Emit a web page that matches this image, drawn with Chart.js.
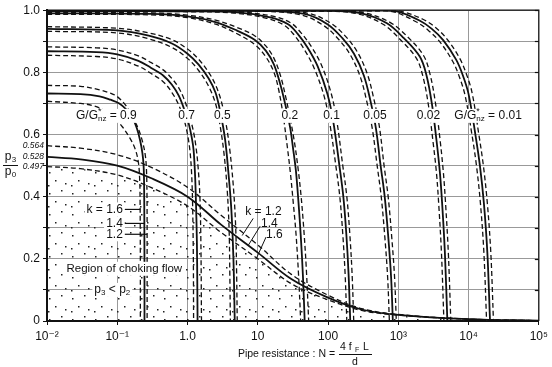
<!DOCTYPE html>
<html>
<head>
<meta charset="utf-8">
<script src="https://cdn.jsdelivr.net/npm/chart.js@4"></script>
<style>
  html, body { margin: 0; padding: 0; background: #fff; }
  #root { width: 552px; height: 367px; position: relative; }
</style>
</head>
<body>
<div id="root"><canvas id="myChart"></canvas></div>
<script>
// axis ticks
const xTicks = [0.01, 0.1, 1, 10, 100, 1000, 10000, 100000]
const xTickLabels = ['10\u207B\u00B2', '10\u207B\u00B9', '1.0', '10', '100', '10\u00B3', '10\u2074', '10\u2075']
const criticalRatios = [0.564, 0.528, 0.497]

// choking boundary, [N, p3/p0]
const chokeK12 = [[0.01,0.564],[0.03,0.556],[0.1,0.535],[0.3,0.495],[1,0.43],[3,0.34],[10,0.245],[30,0.15],[100,0.083],[300,0.04],[1000,0.021],[10000,0.006],[100000,0.001]]
const chokeK14 = [[0.01,0.528],[0.03,0.52],[0.1,0.5],[0.3,0.46],[1,0.4],[3,0.31],[10,0.22],[30,0.135],[100,0.075],[300,0.037],[1000,0.02],[10000,0.006],[100000,0.001]]
const chokeK16 = [[0.01,0.497],[0.03,0.49],[0.1,0.47],[0.3,0.43],[1,0.37],[3,0.285],[10,0.2],[30,0.12],[100,0.068],[300,0.034],[1000,0.019],[10000,0.006],[100000,0.001]]

// G/G*nz = 0.9
const g09k12 = [[0.01,0.758],[0.03,0.755],[0.056,0.744],[0.08,0.733],[0.1,0.722],[0.133,0.693],[0.165,0.655],[0.2,0.618],[0.23,0.575],[0.25,0.535],[0.26,0.49],[0.265,0.4],[0.266,0.2],[0.266,0]]
const g09k14 = [[0.01,0.732],[0.03,0.73],[0.056,0.723],[0.08,0.712],[0.107,0.7],[0.135,0.68],[0.163,0.655],[0.19,0.62],[0.212,0.58],[0.228,0.54],[0.237,0.5],[0.241,0.44],[0.243,0.3],[0.244,0.15],[0.244,0]]
const g09k16 = [[0.01,0.707],[0.03,0.7],[0.045,0.693],[0.062,0.68],[0.09,0.655],[0.118,0.625],[0.15,0.59],[0.18,0.553],[0.2,0.51],[0.208,0.46],[0.211,0.4],[0.213,0.2],[0.213,0]]
// 0.7
const g07k12 = [[0.01,0.882],[0.05,0.879],[0.1,0.872],[0.2,0.853],[0.3,0.832],[0.45,0.808],[0.6,0.78],[0.75,0.75],[0.9,0.712],[1.05,0.665],[1.2,0.615],[1.32,0.56],[1.42,0.49],[1.5,0.4],[1.55,0.25],[1.58,0]]
const g07k14 = [[0.01,0.868],[0.05,0.865],[0.1,0.858],[0.2,0.837],[0.3,0.815],[0.45,0.79],[0.6,0.76],[0.75,0.725],[0.9,0.68],[1.04,0.635],[1.15,0.59],[1.22,0.55],[1.28,0.47],[1.32,0.38],[1.36,0.25],[1.38,0.1],[1.39,0]]
const g07k16 = [[0.01,0.855],[0.05,0.851],[0.1,0.843],[0.2,0.82],[0.3,0.797],[0.45,0.77],[0.6,0.735],[0.75,0.695],[0.9,0.645],[1.0,0.6],[1.08,0.55],[1.14,0.48],[1.18,0.38],[1.21,0.2],[1.22,0]]
// 0.5
const g05k12 = [[0.01,0.947],[0.1,0.942],[0.28,0.927],[0.6,0.905],[1.0,0.875],[1.44,0.842],[2.0,0.8],[2.5,0.76],[3.0,0.71],[3.5,0.64],[4.0,0.55],[4.5,0.43],[4.85,0.3],[5.0,0.15],[5.1,0]]
const g05k14 = [[0.01,0.94],[0.1,0.935],[0.28,0.918],[0.6,0.893],[1.0,0.86],[1.44,0.825],[2.0,0.78],[2.5,0.735],[2.94,0.67],[3.42,0.585],[3.81,0.48],[4.2,0.36],[4.5,0.2],[4.7,0]]
const g05k16 = [[0.01,0.932],[0.1,0.927],[0.28,0.908],[0.6,0.88],[1.0,0.845],[1.44,0.806],[2.0,0.755],[2.5,0.7],[2.9,0.63],[3.3,0.54],[3.65,0.43],[3.9,0.3],[4.0,0.15],[4.07,0]]
// 0.2
const g02k12 = [[0.01,0.993],[0.3,0.991],[1,0.984],[2.5,0.968],[5,0.945],[9,0.918],[13,0.885],[17,0.845],[21,0.79],[25,0.72],[29,0.65],[33,0.58],[37,0.5],[41,0.41],[45,0.3],[49,0.17],[53,0]]
const g02k14 = [[0.01,0.99],[0.3,0.988],[1,0.98],[2.5,0.962],[5,0.935],[9,0.905],[13,0.87],[17,0.825],[21,0.76],[25,0.69],[29,0.62],[32,0.55],[35,0.48],[38,0.38],[41,0.27],[44,0.14],[46.5,0]]
const g02k16 = [[0.01,0.987],[0.3,0.985],[1,0.976],[2.5,0.955],[5,0.925],[9,0.89],[13,0.85],[17,0.8],[20,0.74],[23,0.66],[26,0.57],[29,0.48],[32,0.38],[35,0.28],[38,0.15],[40.8,0]]
// 0.1
const g01k12 = [[0.01,0.998],[1,0.997],[5,0.995],[17,0.98],[30,0.958],[41,0.928],[57,0.885],[80,0.825],[110,0.735],[133,0.645],[162,0.5],[185,0.4],[204,0.28],[220,0.15],[232,0]]
const g01k14 = [[0.01,0.997],[1,0.996],[5,0.993],[15,0.977],[27,0.955],[37,0.924],[51,0.88],[71,0.82],[98,0.73],[119,0.64],[145,0.5],[165,0.4],[182,0.28],[196,0.15],[207,0]]
const g01k16 = [[0.01,0.996],[1,0.995],[4.5,0.991],[13.4,0.974],[24,0.951],[33,0.92],[45.5,0.875],[63,0.815],[87.5,0.725],[106,0.635],[129,0.5],[147,0.4],[162,0.28],[175,0.15],[185,0]]
// 0.05
const g005k12 = [[0.01,0.999],[11,0.998],[52,0.99],[110,0.958],[179,0.915],[262,0.865],[362,0.795],[448,0.715],[538,0.625],[627,0.5],[717,0.4],[806,0.27],[885,0.14],[936,0]]
const g005k14 = [[0.01,0.999],[10,0.998],[46,0.988],[98,0.955],[160,0.91],[234,0.86],[323,0.79],[400,0.71],[480,0.62],[560,0.5],[640,0.4],[720,0.27],[790,0.14],[836,0]]
const g005k16 = [[0.01,0.998],[9,0.997],[41,0.985],[87.5,0.95],[143,0.905],[209,0.855],[288,0.785],[357,0.705],[429,0.615],[500,0.5],[571,0.4],[643,0.27],[705,0.14],[746,0]]
// 0.02
const g002k12 = [[0.01,1.0],[112,0.998],[336,0.991],[772,0.96],[1344,0.915],[2274,0.855],[2822,0.795],[3360,0.705],[3920,0.585],[4370,0.48],[4700,0.38],[5150,0.22],[5590,0]]
const g002k14 = [[0.01,1.0],[100,0.998],[300,0.99],[689,0.958],[1200,0.91],[2030,0.85],[2520,0.79],[3000,0.7],[3500,0.58],[3900,0.48],[4200,0.38],[4600,0.22],[4990,0]]
const g002k16 = [[0.01,0.999],[89,0.997],[268,0.988],[615,0.954],[1071,0.905],[1813,0.845],[2250,0.785],[2680,0.695],[3125,0.575],[3480,0.48],[3750,0.38],[4110,0.22],[4455,0]]
// 0.01
const g001k12 = [[0.01,1.0],[560,0.999],[1066,0.997],[2274,0.97],[3360,0.945],[4900,0.908],[7480,0.845],[9300,0.795],[11200,0.735],[14000,0.6],[16240,0.5],[18480,0.38],[20720,0.22],[22600,0]]
const g001k14 = [[0.01,1.0],[500,0.999],[952,0.996],[2030,0.966],[3000,0.94],[4380,0.903],[6680,0.84],[8300,0.79],[10000,0.73],[12500,0.6],[14500,0.5],[16500,0.38],[18500,0.22],[20200,0]]
const g001k16 = [[0.01,0.999],[446,0.998],[850,0.995],[1813,0.962],[2680,0.935],[3910,0.898],[5960,0.835],[7410,0.785],[8930,0.725],[11160,0.6],[12950,0.5],[14730,0.38],[16520,0.22],[18040,0]]

const families = [
  [g09k12, g09k14, g09k16], [g07k12, g07k14, g07k16], [g05k12, g05k14, g05k16],
  [g02k12, g02k14, g02k16], [g01k12, g01k14, g01k16], [g005k12, g005k14, g005k16],
  [g002k12, g002k14, g002k16], [g001k12, g001k14, g001k16]
]

// label anchors [text, N, p3/p0]
const familyLabels = [['0.7', 0.97, 0.66], ['0.5', 3.14, 0.66], ['0.2', 28.6, 0.66], ['0.1', 112, 0.66], ['0.05', 466, 0.66], ['0.02', 2690, 0.66]]

const FONT = '"Liberation Sans", "DejaVu Sans", sans-serif'

var toPoints = arr => arr.map(([x, y]) => ({ x, y }))

var makeStipple = ctx => {
  const c = document.createElement('canvas')
  c.width = 23; c.height = 21
  const g = c.getContext('2d')
  g.fillStyle = '#222'
  ;[[3, 4], [15, 1], [9, 12], [19, 15], [2, 17]].forEach(([x, y]) => g.fillRect(x, y, 1.5, 1.5))
  return ctx.createPattern(c, 'repeat')
}

var lineSet = (data, dashed, extra) => Object.assign({
  data: toPoints(data),
  borderColor: '#111',
  borderWidth: dashed ? 1.3 : 1.8,
  borderDash: dashed ? [5, 3] : [],
  pointRadius: 0,
  tension: 0.35,
  fill: false
}, extra || {})

const canvas = document.getElementById('myChart')
const ctx = canvas.getContext('2d')

const datasets = []
datasets.push(lineSet(chokeK16, true, { fill: 'origin', backgroundColor: makeStipple(ctx) }))
datasets.push(lineSet(chokeK14, false))
datasets.push(lineSet(chokeK12, true))
families.forEach(([a, b, c]) => {
  datasets.push(lineSet(a, true))
  datasets.push(lineSet(b, false))
  datasets.push(lineSet(c, true))
})

// parts: [text, size, dy, keepX]
var boxText = (ctx, parts, px, py, align) => {
  let w = 0
  parts.forEach(p => { ctx.font = p[1] + 'px ' + FONT; if (!p[3]) w += ctx.measureText(p[0]).width })
  let x0 = align === 'left' ? px : align === 'right' ? px - w : px - w / 2
  ctx.fillStyle = '#fff'
  ctx.fillRect(x0 - 2, py - 7, w + 4, 14)
  ctx.fillStyle = '#111'
  ctx.textBaseline = 'middle'
  ctx.textAlign = 'left'
  parts.forEach(p => {
    ctx.font = p[1] + 'px ' + FONT
    ctx.fillText(p[0], x0, py + p[2])
    if (!p[3]) x0 += ctx.measureText(p[0]).width
  })
}

var ggParts = val => [['G/G', 12, 0], ['*', 9, -4, true], ['nz', 8, 3], [' = ' + val, 12, 0]]

const labelsPlugin = {
  id: 'labels',
  afterDatasetsDraw (chart) {
    const { ctx, scales: { x, y } } = chart
    ctx.save()
    boxText(ctx, ggParts('0.9'), x.getPixelForValue(0.07), y.getPixelForValue(0.66), 'center')
    familyLabels.forEach(([t, n, p]) => boxText(ctx, [[t, 12, 0]], x.getPixelForValue(n), y.getPixelForValue(p), 'center'))
    boxText(ctx, ggParts('0.01'), x.getPixelForValue(6270), y.getPixelForValue(0.66), 'left')

    boxText(ctx, [['Region of choking flow', 11.5, 0]], x.getPixelForValue(0.126), y.getPixelForValue(0.168), 'center')
    boxText(ctx, [['p', 12, 0], ['3', 8, 3], [' < p', 12, 0], ['2', 8, 3]], x.getPixelForValue(0.085), y.getPixelForValue(0.1), 'center')

    // k labels, left group
    const kLeft = [['k = 1.6', 0.359, 0.213], ['1.4', 0.314, 0.244], ['1.2', 0.279, 0.266]]
    kLeft.forEach(([t, p, nEnd]) => {
      const tx = x.getPixelForValue(0.12)
      const ty = y.getPixelForValue(p)
      boxText(ctx, [[t, 12, 0]], tx, ty, 'right')
      ctx.beginPath()
      ctx.strokeStyle = '#111'; ctx.lineWidth = 1.2; ctx.setLineDash([])
      ctx.moveTo(tx + 2, ty); ctx.lineTo(x.getPixelForValue(nEnd), ty)
      ctx.stroke()
    })
    // k labels, right group
    const kRight = [['k = 1.2', 6.62, 0.352, 8.6, 0.33, 6.0, 0.275], ['1.4', 11.1, 0.314, 10.8, 0.305, 7.3, 0.243], ['1.6', 13.1, 0.279, 13.1, 0.27, 9.4, 0.198]]
    kRight.forEach(([t, n, p, n1, p1, n2, p2]) => {
      ctx.font = '12px ' + FONT
      ctx.fillStyle = '#111'; ctx.textAlign = 'left'; ctx.textBaseline = 'middle'
      ctx.fillText(t, x.getPixelForValue(n), y.getPixelForValue(p))
      ctx.beginPath()
      ctx.strokeStyle = '#111'; ctx.lineWidth = 1; ctx.setLineDash([])
      ctx.moveTo(x.getPixelForValue(n1), y.getPixelForValue(p1))
      ctx.lineTo(x.getPixelForValue(n2), y.getPixelForValue(p2))
      ctx.stroke()
    })
    ctx.restore()
  },
  afterDraw (chart) {
    const { ctx, chartArea: a, scales: { y } } = chart
    ctx.save()
    ctx.strokeStyle = '#111'; ctx.lineWidth = 1.2; ctx.setLineDash([])
    ctx.beginPath()
    ctx.moveTo(a.left, a.top); ctx.lineTo(a.right, a.top); ctx.lineTo(a.right, a.bottom)
    ctx.stroke()
    for (let v = 0.1; v < 1; v += 0.1) {
      const py = Math.round(y.getPixelForValue(v)) + 0.5
      ctx.beginPath(); ctx.moveTo(a.right - 4, py); ctx.lineTo(a.right, py); ctx.stroke()
    }
    // critical ratio labels
    ctx.font = 'italic 8.5px ' + FONT
    ctx.fillStyle = '#111'; ctx.textAlign = 'right'; ctx.textBaseline = 'middle'
    criticalRatios.forEach(v => ctx.fillText(v.toFixed(3), a.left - 3, y.getPixelForValue(v)))
    // y title p3 / p0
    ctx.textAlign = 'center'
    ctx.font = '12px ' + FONT; ctx.fillText('p', 8, 157)
    ctx.font = '8px ' + FONT; ctx.fillText('3', 14, 160)
    ctx.beginPath(); ctx.lineWidth = 1; ctx.moveTo(3, 165.5); ctx.lineTo(18, 165.5); ctx.stroke()
    ctx.font = '12px ' + FONT; ctx.fillText('p', 8, 172)
    ctx.font = '8px ' + FONT; ctx.fillText('0', 14, 175)
    // x title
    ctx.font = '10.5px ' + FONT
    ctx.textAlign = 'right'
    ctx.fillText('Pipe resistance : N = ', 338, 354)
    ctx.textAlign = 'left'
    ctx.fillText('4 f', 340, 347)
    ctx.font = '7px ' + FONT; ctx.fillText('F', 355, 350)
    ctx.font = '10.5px ' + FONT; ctx.fillText(' L', 360, 347)
    ctx.beginPath(); ctx.moveTo(339, 354.5); ctx.lineTo(372, 354.5); ctx.stroke()
    ctx.textAlign = 'center'
    ctx.fillText('d', 355, 362)
    ctx.restore()
  }
}

const config = {
  type: 'line',
  data: { datasets },
  options: {
    responsive: true,
    maintainAspectRatio: false,
    animation: false,
    events: [],
    layout: { padding: { top: 6, right: 9, left: 0, bottom: 0 } },
    plugins: { legend: { display: false }, tooltip: { enabled: false } },
    scales: {
      x: {
        type: 'logarithmic',
        min: 0.01,
        max: 100000,
        afterBuildTicks: scale => { scale.ticks = xTicks.map(v => ({ value: v })) },
        afterFit: scale => { scale.height = 46 },
        ticks: {
          autoSkip: false,
          maxRotation: 0,
          padding: 4,
          color: '#111',
          font: { family: FONT, size: 12 },
          callback: (v, i) => xTickLabels[i]
        },
        grid: { color: '#999', lineWidth: 1, tickLength: 4, tickColor: '#111' },
        border: { color: '#111', width: 2 }
      },
      y: {
        min: 0,
        max: 1,
        afterFit: scale => { scale.width = 47 },
        ticks: {
          stepSize: 0.1,
          padding: 3,
          color: '#111',
          font: { family: FONT, size: 12 },
          callback: v => {
            const k = Math.round(v * 10)
            if (k % 2) return ''
            return k === 0 ? '0' : (k / 10).toFixed(1)
          }
        },
        grid: { color: '#999', lineWidth: 1, tickLength: 4, tickColor: '#111' },
        border: { color: '#111', width: 2 }
      }
    }
  },
  plugins: [labelsPlugin]
}

new Chart(ctx, config)
</script>
</body>
</html>
